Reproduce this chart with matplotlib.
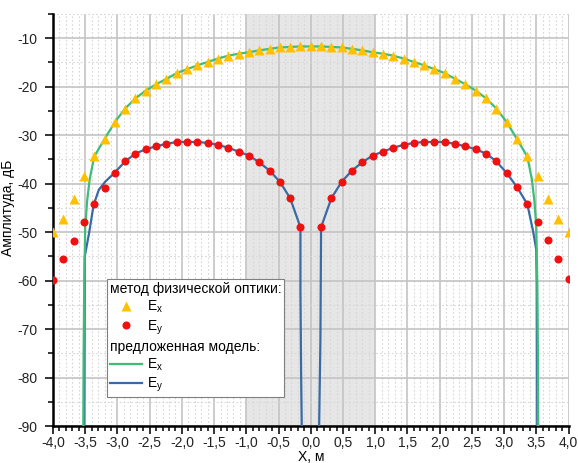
import numpy as np
import matplotlib
matplotlib.use('Agg')
import matplotlib.pyplot as plt
from matplotlib.ticker import MultipleLocator, FuncFormatter
from matplotlib.lines import Line2D

plt.rcParams['font.family'] = ['Liberation Sans', 'DejaVu Sans']
plt.rcParams['font.size'] = 10
plt.rcParams['axes.unicode_minus'] = False

# Метод физической оптики (точки через 0.16 м)
x_po = [-4.00, -3.84, -3.68, -3.52, -3.36, -3.20, -3.04, -2.88, -2.72, -2.56,
        -2.40, -2.24, -2.08, -1.92, -1.76, -1.60, -1.44, -1.28, -1.12, -0.96,
        -0.80, -0.64, -0.48, -0.32, -0.16, 0.00, 0.16, 0.32, 0.48, 0.64,
        0.80, 0.96, 1.12, 1.28, 1.44, 1.60, 1.76, 1.92, 2.08, 2.24,
        2.40, 2.56, 2.72, 2.88, 3.04, 3.20, 3.36, 3.52, 3.68, 3.84, 4.00]
ex_po = [-50.0, -47.3, -43.2, -38.4, -34.4, -30.8, -27.3, -24.5, -22.4, -20.8,
         -19.5, -18.4, -17.2, -16.4, -15.6, -14.9, -14.2, -13.6, -13.2, -12.9,
         -12.5, -12.2, -11.9, -11.8, -11.7, -11.7, -11.7, -11.8, -11.9, -12.2,
         -12.5, -12.9, -13.2, -13.6, -14.2, -14.9, -15.6, -16.4, -17.2, -18.4,
         -19.5, -20.8, -22.4, -24.5, -27.3, -30.8, -34.4, -38.4, -43.2, -47.3, -50.0]
ey_po = [-59.8, -55.6, -51.8, -48.0, -44.2, -40.8, -37.8, -35.4, -33.8, -32.9,
         -32.3, -31.8, -31.4, -31.4, -31.4, -31.6, -32.0, -32.6, -33.4, -34.2,
         -35.6, -37.3, -39.6, -43.0, -49.0, np.nan, -49.0, -43.0, -39.6, -37.3,
         -35.6, -34.2, -33.4, -32.6, -32.0, -31.6, -31.4, -31.4, -31.4, -31.8,
         -32.3, -32.9, -33.8, -35.4, -37.8, -40.7, -44.2, -48.0, -51.7, -55.6, -59.7]

# Предложенная модель
x_ex_mod = [-3.530, -3.525, -3.515, -3.50, -3.47, -3.43, -3.36, -3.20, -3.04, -2.88,
            -2.72, -2.56, -2.40, -2.24, -2.08, -1.92, -1.76, -1.60, -1.44, -1.28,
            -1.12, -0.96, -0.80, -0.64, -0.48, -0.32, -0.16, 0.00, 0.16, 0.32,
            0.48, 0.64, 0.80, 0.96, 1.12, 1.28, 1.44, 1.60, 1.76, 1.92,
            2.08, 2.24, 2.40, 2.56, 2.72, 2.88, 3.04, 3.20, 3.36, 3.43,
            3.47, 3.50, 3.515, 3.525, 3.530]
ex_mod = [-90.0, -75.0, -60.0, -49.0, -43.5, -39.0, -34.4, -30.8, -27.3, -24.5,
          -22.4, -20.8, -19.5, -18.4, -17.2, -16.4, -15.6, -14.9, -14.2, -13.6,
          -13.2, -12.9, -12.5, -12.2, -11.9, -11.8, -11.7, -11.7, -11.7, -11.8,
          -11.9, -12.2, -12.5, -12.9, -13.2, -13.6, -14.2, -14.9, -15.6, -16.4,
          -17.2, -18.4, -19.5, -20.8, -22.4, -24.5, -27.3, -30.8, -34.4, -39.0,
          -43.5, -49.0, -60.0, -75.0, -90.0]

x_ey_mod = [-3.515, -3.507, -3.44, -3.37, -3.29, -3.19, -3.04, -2.88, -2.72, -2.56,
            -2.40, -2.24, -2.08, -1.92, -1.76, -1.60, -1.44, -1.28, -1.12, -0.96,
            -0.80, -0.64, -0.48, -0.32, -0.16, -0.16, -0.15, -0.14, 0.00,
            0.13, 0.15, 0.16, 0.32, 0.48, 0.64, 0.80, 0.96, 1.12, 1.28,
            1.44, 1.60, 1.76, 1.92, 2.08, 2.24, 2.40, 2.56, 2.72, 2.88,
            3.04, 3.20, 3.36, 3.45, 3.50, 3.51, 3.515]
ey_mod = [-90.0, -55.0, -50.2, -44.4, -41.3, -39.6, -37.7, -35.4, -33.8, -32.9,
          -32.3, -31.8, -31.4, -31.4, -31.4, -31.6, -32.0, -32.6, -33.4, -34.2,
          -35.6, -37.3, -39.6, -43.0, -49.0, -62.0, -79.0, -90.0, np.nan,
          -90.0, -72.0, -49.0, -43.0, -39.6, -37.3, -35.6, -34.2, -33.4, -32.6,
          -32.0, -31.6, -31.4, -31.4, -31.4, -31.8, -32.3, -32.9, -33.8, -35.4,
          -37.8, -40.7, -44.2, -49.8, -53.7, -61.0, -90.0]

fig = plt.figure(figsize=(5.78, 4.63), dpi=100)
ax = fig.add_axes([0.0917, 0.0799, 0.8919, 0.8899])

# затенённая область |x| < 1 м
ax.axvspan(-1, 1, color='#e6e6e6', zorder=0, lw=0)

ax.plot(x_ey_mod, ey_mod, color='#3b6aa3', lw=1.6, zorder=3)
ax.plot(x_ex_mod, ex_mod, color='#3dbd78', lw=1.6, zorder=4)
ax.plot(x_po, ex_po, '^', color='#ffc000', ms=7, mec='none', zorder=5)
ax.plot(x_po, ey_po, 'o', color='#f01010', ms=5.8, mec='none', zorder=5)

ax.set_xlim(-4, 4)
ax.set_ylim(-90, -5)
ax.xaxis.set_major_locator(MultipleLocator(0.5))
ax.xaxis.set_minor_locator(MultipleLocator(0.1))
ax.yaxis.set_major_locator(MultipleLocator(10))
ax.yaxis.set_minor_locator(MultipleLocator(5))
ax.xaxis.set_major_formatter(FuncFormatter(lambda v, p: f'{v:.1f}'.replace('.', ',')))
ax.yaxis.set_major_formatter(FuncFormatter(lambda v, p: f'{v:.0f}'))

ax.grid(True, which='major', color='#c4c4c4', lw=1.2, zorder=1)
ax.grid(True, which='minor', color='#d6d6d6', lw=0.8, ls=(0, (1.5, 2)), zorder=1)
ax.set_axisbelow(True)

for s in ['top', 'right']:
    ax.spines[s].set_visible(False)
for s in ['left', 'bottom']:
    ax.spines[s].set_linewidth(1.8)

ax.tick_params(which='major', direction='out', length=6, width=1.3,
               labelsize=10, colors='#222222')
ax.tick_params(which='minor', direction='out', length=3.5, width=1.1)
ax.tick_params(axis='x', which='major', pad=1.5)
ax.tick_params(axis='y', which='major', pad=5)

ax.set_ylabel('Амплитуда, дБ', fontsize=10)
ax.yaxis.set_label_coords(-0.074, 0.53)
ax.set_xlabel('X, м', fontsize=10, labelpad=-0.5)

# легенда с двумя заголовками
blank = Line2D([], [], color='none')
handles = [
    Line2D([], [], ls='none', marker='^', color='#ffc000', ms=7, mec='none'),
    Line2D([], [], ls='none', marker='o', color='#f01010', ms=5.8, mec='none'),
    blank,
    Line2D([], [], color='#3dbd78', lw=1.6),
    Line2D([], [], color='#3b6aa3', lw=1.6),
]
labels = ['E$_\\mathregular{x}$', 'E$_\\mathregular{y}$', 'предложенная модель:',
          'E$_\\mathregular{x}$', 'E$_\\mathregular{y}$']
leg = ax.legend(handles, labels, title='метод физической оптики:',
                alignment='left', loc='upper left', bbox_to_anchor=(0.105, 0.357),
                borderaxespad=0, fancybox=False, framealpha=1, edgecolor='#808080',
                fontsize=10, title_fontsize=10, handlelength=2.3, handletextpad=0.4,
                labelspacing=0.22, borderpad=0.2)
leg.get_frame().set_linewidth(0.8)
leg.set_zorder(10)
# заголовок второй группы без отступа под маркер
row = leg._legend_handle_box.get_children()[0].get_children()[2]
row.get_children()[0].width = 0
row.sep = 0

fig.savefig('out.png', dpi=100)
